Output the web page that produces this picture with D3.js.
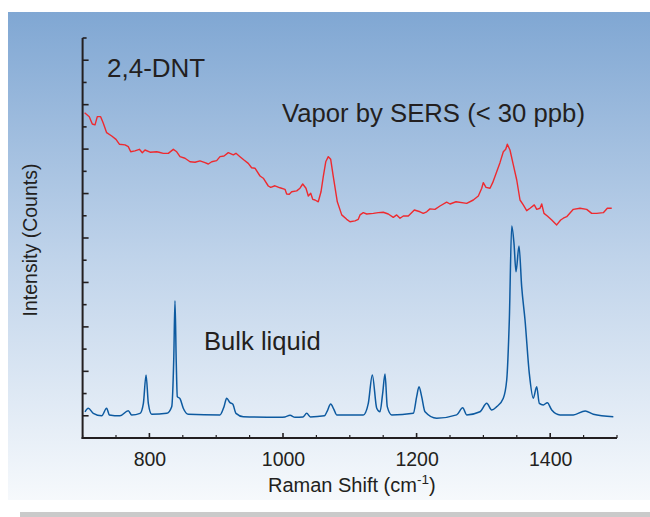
<!DOCTYPE html>
<html><head><meta charset="utf-8">
<script src="https://cdn.jsdelivr.net/npm/d3@7"></script>
<style>body{margin:0;background:#fff;}svg{display:block;}text{font-family:"Liberation Sans",Arial,sans-serif;fill:#231f20;}</style>
</head><body>
<svg id="chart" width="650" height="517"></svg>
<script>
// Raman shift (cm-1) and intensity (arbitrary units)
const xTickMajor = [800, 1000, 1200, 1400];
const xTickMinor = [700, 750, 850, 900, 950, 1050, 1100, 1150, 1250, 1300, 1350, 1450, 1500];
const yTicks = d3.range(0, 19);
const labels = { compound: "2,4-DNT", vapor: "Vapor by SERS (< 30 ppb)", bulk: "Bulk liquid",
  xTitle: "Raman Shift (cm", yTitle: "Intensity (Counts)" };

const vaporShift = [703,710,714.5,718.6,722,727,731,736,743.6,750,755,763.5,768.4,772,778.4,785,789.4,793.4,801,811,814.4,820.8,828.3,835.8,840.9,845.8,853.3,860.8,868.3,875.8,883.2,888.2,893.3,900.7,905.7,911.7,918.1,925.6,929.6,935.6,941.6,948,953,958,965.6,970.5,978,981.6,988,995.5,1003,1005.5,1009.4,1013,1020.5,1025.4,1029.5,1034.4,1037.9,1041.5,1044.5,1048,1052.8,1056.9,1060.3,1064,1067.8,1071.4,1075.3,1081.3,1087.9,1095.4,1100.3,1107.8,1112.7,1115.3,1120.2,1125.3,1135.2,1142.7,1150.1,1157.6,1165.1,1170.2,1175.2,1180.1,1187.6,1196.6,1205.1,1210,1215.1,1220,1227.5,1235,1245,1250,1259,1275,1284.9,1292.4,1297.5,1299.8,1303.9,1309.9,1313.9,1319.9,1324.8,1329.8,1333.4,1335.8,1339.8,1344.8,1349.9,1354.8,1359.7,1364.8,1369.8,1376.2,1379.8,1384.7,1387.3,1390.7,1395.7,1402.3,1409.7,1415.7,1419.6,1424.7,1434.6,1444.6,1454.6,1462.1,1469.6,1479.5,1485.5,1492.1];
const vaporIntensity = [14.64,14.46,14.13,14.09,14.46,14.46,14.16,13.74,13.59,13.44,13.22,13.19,13.11,12.88,12.92,12.99,12.84,12.96,12.86,12.88,12.86,12.81,12.81,12.99,12.88,12.66,12.59,12.43,12.41,12.47,12.39,12.33,12.43,12.48,12.66,12.69,12.84,12.74,12.81,12.66,12.51,12.36,12.16,12.14,11.79,11.69,11.34,11.28,11.35,11.26,11.19,10.98,10.97,11.08,11.12,11.24,11.43,11.24,10.89,11.01,10.74,10.71,10.63,11.08,11.76,12.43,12.66,12.54,11.76,10.63,10.04,9.84,9.73,9.77,9.84,10.04,10.14,10.08,10.11,10.14,10.16,10.08,9.93,10.04,9.89,9.99,9.99,10.26,10.18,10.11,10.18,10.31,10.29,10.44,10.61,10.53,10.63,10.56,10.71,10.89,11.24,11.49,11.28,11.24,11.49,11.98,12.39,12.88,12.99,13.22,12.96,12.29,11.61,10.71,10.49,10.23,10.34,10.49,10.29,10.34,10.53,10.11,9.99,9.81,9.59,9.81,9.89,9.96,10.29,10.34,10.29,10.11,10.11,10.14,10.34,10.34];

const bulkShift = [703.6,708.5,716,728.6,736,740,756,768.4,773.5,786,791,795,798.4,803.4,826,833.4,836.5,838.3,840.2,841.8,845.8,850.7,858.2,905.7,911.7,915.7,920.7,924.7,929.6,940.6,995.5,1003,1010.5,1018,1030,1035.5,1041,1062,1066,1071.4,1076,1080.4,1120.2,1127.7,1133.7,1140.3,1145.2,1149.2,1152.7,1156.1,1162.7,1195,1200.1,1203.6,1207.6,1212.6,1230,1260,1269,1275,1294.9,1305,1312.4,1319.9,1329.8,1334.9,1338.8,1342.4,1345.8,1348.8,1353.3,1357.3,1362.3,1368.7,1374.7,1379.8,1383.7,1389.7,1395.7,1402.3,1414.7,1434.6,1452.4,1464.5,1494.5];
const bulkIntensity = [1.18,1.34,1.11,1.00,1.34,1.04,1.00,1.23,1.04,1.11,1.56,2.84,1.56,1.07,1.11,1.41,3.6,6.18,3.4,1.86,1.77,1.34,1.07,1.04,1.41,1.79,1.59,1.53,1.11,0.96,0.93,0.95,1.02,0.93,0.95,1.11,0.95,1.0,1.2,1.53,1.3,1.04,1.04,1.56,2.84,1.34,1.18,2.01,2.88,1.41,1.04,1.11,1.86,2.31,1.86,1.18,0.89,1.04,1.36,1.04,1.18,1.56,1.26,1.41,1.79,2.61,5.31,9.54,8.76,7.48,8.64,6.81,5.31,2.91,1.79,2.31,1.56,1.49,1.59,1.26,1.04,1.04,1.22,1.07,0.96];

const svg = d3.select("#chart");
const defs = svg.append("defs");
const grad = defs.append("linearGradient").attr("id","bg").attr("x1",0).attr("y1",0).attr("x2",0).attr("y2",1);
grad.append("stop").attr("offset","0%").attr("stop-color","#80a7d3");
grad.append("stop").attr("offset","50%").attr("stop-color","#bfd3ea");
grad.append("stop").attr("offset","100%").attr("stop-color","#f6f9fc");
svg.append("rect").attr("x",8).attr("y",12).attr("width",642).attr("height",488).attr("fill","url(#bg)");
svg.append("rect").attr("x",20).attr("y",512).attr("width",630).attr("height",5).attr("fill","#cacaca");

const x = d3.scaleLinear().domain([700,1500]).range([82.6,617]);
const y = d3.scaleLinear().domain([0,18]).range([438,38]);

const line = d3.line().x(d=>x(d[0])).y(d=>y(d[1]));
const lineSmooth = d3.line().x(d=>x(d[0])).y(d=>y(d[1])).curve(d3.curveMonotoneX);

svg.append("path").datum(d3.zip(vaporShift, vaporIntensity))
  .attr("d", line).attr("fill","none").attr("stroke","#ee2a2f").attr("stroke-width",1.4).attr("stroke-linejoin","round");
svg.append("path").datum(d3.zip(bulkShift, bulkIntensity))
  .attr("d", lineSmooth).attr("fill","none").attr("stroke","#0d5aa0").attr("stroke-width",1.5).attr("stroke-linejoin","round");

// axes
const axisColor = "#231f20";
const gx = svg.append("g").attr("transform",`translate(0,${y(0)})`);
gx.call(d3.axisBottom(x).tickValues(xTickMajor).tickSize(0).tickPadding(14).tickFormat(d3.format("d")));
gx.select(".domain").remove();
gx.selectAll("text").attr("font-size",19.5).attr("fill","#333").style("font-family","Liberation Sans, Arial, sans-serif");
gx.selectAll(".tickMaj").data(xTickMajor).join("line").attr("x1",d=>x(d)).attr("x2",d=>x(d)).attr("y1",0).attr("y2",-5).attr("stroke",axisColor).attr("stroke-width",1.6);
gx.selectAll(".tickMin").data(xTickMinor).join("line").attr("x1",d=>x(d)).attr("x2",d=>x(d)).attr("y1",0).attr("y2",-3).attr("stroke",axisColor).attr("stroke-width",1.2);
svg.append("line").attr("x1",x(700)-1).attr("x2",x(1500)).attr("y1",y(0)).attr("y2",y(0)).attr("stroke",axisColor).attr("stroke-width",2);

const gy = svg.append("g").attr("transform",`translate(${x(700)},0)`);
gy.selectAll("line.t").data(yTicks).join("line").attr("y1",d=>y(d)).attr("y2",d=>y(d)).attr("x1",0).attr("x2",d=>d%2===1?6:4).attr("stroke",axisColor).attr("stroke-width",1.6);
svg.append("line").attr("x1",x(700)).attr("x2",x(700)).attr("y1",y(18)).attr("y2",y(0)+1).attr("stroke",axisColor).attr("stroke-width",2);

// text
svg.append("text").attr("x",107).attr("y",77).attr("font-size",26).text(labels.compound);
svg.append("text").attr("x",282).attr("y",122).attr("font-size",25.7).text(labels.vapor);
svg.append("text").attr("x",204).attr("y",350).attr("font-size",25.6).text(labels.bulk);
const xt = svg.append("text").attr("x",(x(700)+x(1500))/2+2).attr("y",492).attr("font-size",20).attr("text-anchor","middle").attr("fill","#333");
xt.append("tspan").text(labels.xTitle);
xt.append("tspan").attr("font-size",13.5).attr("dy",-8).text("-1");
xt.append("tspan").attr("dy",8).text(")");
svg.append("text").attr("transform","translate(37,240) rotate(-90)").attr("font-size",19.5).attr("text-anchor","middle").attr("fill","#333").text(labels.yTitle);
</script>
</body></html>
